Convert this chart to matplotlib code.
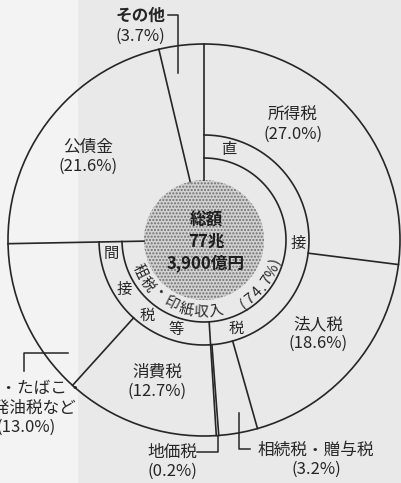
import numpy as np
import matplotlib.pyplot as plt
from matplotlib.patches import Circle, Rectangle

plt.rcParams['font.family'] = ['Noto Sans CJK JP', 'DejaVu Sans']

# 一般会計歳入の内訳（%）, 12時の位置から時計回り
items = ['所得税', '法人税', '相続税・贈与税', '地価税', '消費税',
         '酒税・たばこ・\n揮発油税など', '公債金', 'その他']
shares = [27.0, 18.6, 3.2, 0.2, 12.7, 13.0, 21.6, 3.7]
is_tax = [True, True, True, True, True, True, False, False]
is_direct = [True, True, True, True, False, False, False, False]
total_lines = ['総額', '77兆', '3,900億円']
tax_title = '租税・印紙収入'

INK = '#262626'
CX, CY = 204, 240          # pixel coords, y down
R_OUT, R_RING, R_RING_IN, R_DISC = 196, 105, 82, 60


def pt(a, r):
    """a: degrees clockwise from 12 o'clock"""
    t = np.radians(a)
    return CX + r * np.sin(t), CY - r * np.cos(t)


fig = plt.figure(figsize=(4.01, 4.83), dpi=100, facecolor='#e9e9ea')
ax = fig.add_axes([0, 0, 1, 1])
ax.set_xlim(0, 401)
ax.set_ylim(483, 0)
ax.set_aspect('equal')
ax.axis('off')
ax.add_patch(Rectangle((0, 0), 78, 483, color='#f3f3f3', lw=0, zorder=0))

cum = np.concatenate([[0], np.cumsum(shares)])
ang = cum / 100 * 360
tax_end = ang[sum(is_tax)]

# outer circle
ax.add_patch(Circle((CX, CY), R_OUT, fill=False, ec=INK, lw=1.2, zorder=3))

# ring arcs around the tax part
arc = np.linspace(0, tax_end, 200)
for r in (R_RING, R_RING_IN):
    x, y = pt(arc, r)
    ax.plot(x, y, color=INK, lw=1.2, zorder=3)

# slice boundaries
n = len(shares)
for i in range(n):
    prev, cur = (i - 1) % n, i
    if is_tax[prev] and is_tax[cur]:
        r0 = R_RING_IN if is_direct[prev] != is_direct[cur] else R_RING
    else:
        r0 = R_DISC
    x, y = pt(np.array([ang[i], ang[i]]), np.array([r0, R_OUT]))
    ax.plot(x, y, color=INK, lw=1.2, zorder=3)

# centre disc
ax.add_patch(Circle((CX, CY), R_DISC, fc='#d2d2d2', ec='#6e6e6e', lw=0,
                    hatch='.....', zorder=2))
for k, s in enumerate(total_lines):
    ax.text(CX + 2, CY - 19 + 21 * k, s, ha='center', va='center',
            fontsize=12, fontweight='bold', color='#1e1e1e', zorder=4)

# curved caption along the inner gap
caption = tax_title + ' ' + f'({sum(s for s, t in zip(shares, is_tax) if t):.1f}%)'
adv = {' ': 15.0, '(': 8.0, ')': 8.0, '.': 5.0, '%': 11.0}


def width(ch):
    return adv.get(ch, 9.5 if ch.isdigit() else 15.5)


a = 244.1 + np.degrees(width(caption[0]) / 2 / 72)
for ch in caption:
    w = width(ch)
    a -= np.degrees(w / 2 / 72)
    if ch != ' ':
        x, y = pt(a, 72 if ord(ch) > 255 else 75)
        ax.text(x, y, ch, ha='center', va='center', rotation=180 - a,
                rotation_mode='anchor', fontsize=10.5, color=INK, zorder=4)
    a -= np.degrees(w / 2 / 72)

# ring characters
ring_chars = [('直', 15), ('接', 92), ('税', 160),
              ('間', 262), ('接', 238), ('税', 217), ('等', 197)]
for ch, a in ring_chars:
    x, y = pt(a, 94)
    ax.text(x, y, ch, ha='center', va='center', fontsize=11, color=INK, zorder=4)

# slice labels
label_pos = {
    '所得税': (293, 125),
    '法人税': (318, 334),
    '消費税': (157, 382),
    '公債金': (88, 157),
}
for name, s in zip(items, shares):
    if name in label_pos:
        x, y = label_pos[name]
        ax.text(x, y, f'{name}\n({s}%)', ha='center', va='center',
                fontsize=12, color=INK, linespacing=1.15, zorder=4)

# labels with leader lines
mid = (ang[:-1] + ang[1:]) / 2
ax.text(140, 25, f'{items[7]}', ha='center', va='bottom', fontsize=12,
        fontweight='bold', color=INK)
ax.text(140, 36, f'({shares[7]}%)', ha='center', va='center', fontsize=12,
        color=INK)
ax.plot([168, 178, 178], [15, 15, 73], color=INK, lw=1.1)

gx, gy = pt(mid[3], R_OUT)
ax.plot([197, gx, gx], [452, 452, gy], color=INK, lw=1.1)
ax.text(172, 462, f'{items[3]}\n({shares[3]}%)', ha='center', va='center',
        fontsize=12, color=INK, linespacing=1.15)

ax.plot([239, 239, 250], [413, 449, 449], color=INK, lw=1.1)
ax.text(316, 460, f'{items[2]}\n({shares[2]}%)', ha='center', va='center',
        fontsize=12, color=INK, linespacing=1.15)

# this label runs off the left edge in the source scan
ax.plot([68, 24, 24], [353, 353, 371], color=INK, lw=1.1)
ax.text(26, 408, f'{items[5]}\n({shares[5]}%)', ha='center', va='center',
        fontsize=12, color=INK, linespacing=1.15)

fig.savefig('out.png', dpi=100, facecolor=fig.get_facecolor())
